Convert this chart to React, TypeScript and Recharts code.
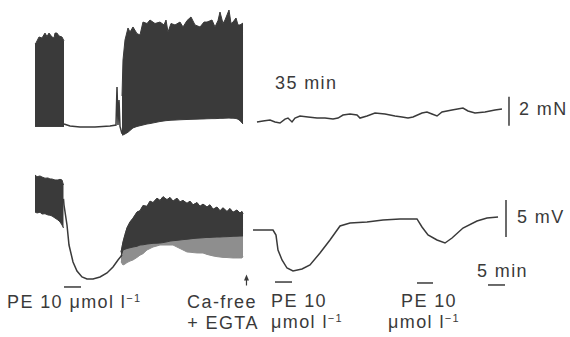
import React from 'react';
import { ComposedChart, Area, Line, XAxis, YAxis, ReferenceLine, ReferenceDot, Customized } from 'recharts';

// page geometry: x = time (min), top trace = force (mN), bottom trace = membrane potential change (mV)
const W = 570;
const H = 337;
const PX_PER_MIN = 3.4;
const X0_PX = 35;
const PX_PER_MN = 14.5;
const F0_PX = 125;
const PX_PER_MV = 7.4;
const V0_PX = 230;

const X_DOMAIN = [-X0_PX / PX_PER_MIN, (W - X0_PX) / PX_PER_MIN];
const F_DOMAIN = [(F0_PX - H) / PX_PER_MN, F0_PX / PX_PER_MN];
const V_DOMAIN = [(V0_PX - H) / PX_PER_MV, V0_PX / PX_PER_MV];

const INK = '#3a3a3a';
const LIGHT = '#8e8e8e';
const FONT = '"Liberation Sans", Arial, sans-serif';

// force, first burst of spikes: [min, low envelope, high envelope]
const forceBurst1: [number, number, number][] = [
  [0, -0.1, 5.59], [0.29, -0.1, 5.66], [1.18, -0.1, 6.07], [2.06, -0.1, 6.0], [2.94, -0.1, 6.34],
  [3.53, -0.1, 6.1], [4.12, -0.1, 6.34], [5.0, -0.1, 6.07], [5.59, -0.1, 6.0], [5.88, -0.1, 6.34],
  [6.47, -0.1, 6.34], [7.06, -0.1, 6.14], [7.94, -0.1, 6.07], [8.24, -0.1, 5.93], [8.53, -0.1, 5.8],
];

// force, quiet period during PE with two isolated spikes
const forceQuiet: [number, number][] = [
  [8.53, 0.07], [10.29, -0.07], [13.24, -0.14], [17.65, -0.14], [22.06, -0.07], [23.82, 0],
  [24.12, 2.62], [24.41, 0], [24.71, 1.72], [25.0, -0.1], [25.59, -0.6],
];

// force, second burst
const forceBurst2: [number, number, number][] = [
  [25.59, -0.69, 2.0], [25.88, -0.69, 4.48], [26.47, -0.62, 5.86], [27.35, -0.5, 6.69], [27.94, -0.38, 6.41],
  [28.82, -0.2, 6.76], [30.0, -0.1, 6.3], [30.88, -0.05, 6.21], [31.76, 0, 7.1], [32.94, 0.07, 7.0],
  [33.82, 0.1, 7.24], [35.29, 0.17, 7.0], [36.76, 0.24, 7.1], [37.94, 0.28, 6.9], [38.53, 0.3, 7.24],
  [39.12, 0.31, 6.41], [40.0, 0.33, 7.0], [41.18, 0.34, 6.9], [42.65, 0.36, 7.1], [43.53, 0.37, 6.76],
  [44.71, 0.38, 7.2], [45.88, 0.39, 7.45], [47.06, 0.4, 6.9], [48.53, 0.41, 6.76], [49.71, 0.42, 7.1],
  [50.59, 0.43, 7.1], [52.06, 0.44, 7.24], [52.94, 0.44, 6.76], [53.82, 0.45, 7.2], [54.41, 0.46, 7.79],
  [55.29, 0.46, 7.0], [55.88, 0.47, 7.24], [57.06, 0.48, 7.93], [57.65, 0.47, 7.0], [58.24, 0.47, 7.1],
  [59.12, 0.45, 7.38], [59.71, 0.4, 6.9], [60.29, 0.3, 6.9], [61.18, 0.07, 7.03],
];

// force after 35 min in Ca-free + EGTA
const forceCaFree: [number, number][] = [
  [65.29, 0.21], [67.06, 0.28], [69.12, 0.34], [70.59, 0.21], [72.06, 0.14], [73.53, 0.41], [74.41, 0.48],
  [75.59, 0.21], [76.47, 0.48], [77.94, 0.62], [80.29, 0.55], [82.94, 0.48], [85.29, 0.48], [87.65, 0.41],
  [89.12, 0.48], [90.59, 0.69], [92.65, 0.76], [94.71, 0.69], [95.59, 0.48], [97.65, 0.62], [100.0, 0.83],
  [102.94, 0.76], [105.88, 0.62], [107.94, 0.55], [109.71, 0.48], [111.18, 0.55], [113.82, 0.83],
  [115.29, 0.9], [116.76, 0.76], [118.24, 0.62], [119.71, 0.9], [122.65, 1.03], [125.88, 1.17],
  [127.35, 0.97], [129.41, 0.83], [132.35, 0.9], [135.29, 1.03], [137.35, 1.1],
];

// membrane potential, first burst: [min, low, high]
const vmBurst1: [number, number, number][] = [
  [0, 2.43, 7.43], [0.6, 2.3, 7.2], [1.47, 2.4, 7.3], [2.06, 2.16, 7.16], [2.94, 2.2, 7.0],
  [3.82, 2.03, 7.03], [4.41, 2.0, 6.9], [5.0, 1.89, 6.89], [5.88, 1.62, 6.76], [6.76, 1.35, 6.76],
  [7.35, 1.1, 6.85], [7.94, 0.68, 6.76], [8.38, 0.27, 6.08],
];

// hyperpolarisation during PE
const vmPE: [number, number][] = [
  [8.38, 4.2], [8.53, 3.38], [9.41, 0.68], [10.0, -2.03], [11.18, -4.32], [12.35, -5.54], [13.82, -6.35],
  [15.29, -6.62], [17.06, -6.62], [19.12, -6.35], [21.18, -5.81], [22.94, -5.0], [24.41, -4.05],
  [25.59, -3.38],
];

// membrane potential, second burst: [min, outer low, dense low, high]
const vmBurst2: [number, number, number, number][] = [
  [25.29, -4.3, -3.6, -3.0], [25.88, -4.73, -2.7, -1.62], [26.47, -4.6, -2.6, -0.6], [27.06, -4.4, -2.5, 0.3],
  [27.94, -4.2, -2.4, 1.08], [28.82, -4.05, -2.3, 1.6], [30.0, -3.7, -2.2, 2.43], [30.88, -3.4, -2.03, 2.6],
  [31.76, -3.2, -2.0, 3.3], [32.94, -2.7, -1.9, 3.2], [33.82, -2.5, -1.85, 3.9], [34.71, -2.3, -1.8, 3.7],
  [35.88, -2.15, -1.78, 4.3], [36.76, -2.03, -1.76, 4.0], [37.65, -2.03, -1.7, 4.5], [38.82, -2.03, -1.6, 4.1],
  [39.71, -2.03, -1.5, 4.4], [40.59, -2.03, -1.45, 3.9], [41.76, -2.3, -1.4, 4.3], [42.65, -2.5, -1.35, 3.8],
  [43.53, -2.7, -1.3, 4.0], [44.71, -2.97, -1.25, 3.6], [45.59, -3.0, -1.2, 3.9], [46.47, -3.05, -1.15, 3.4],
  [47.65, -3.1, -1.1, 3.7], [48.53, -3.11, -1.08, 3.2], [49.41, -3.11, -1.05, 3.5], [50.59, -3.3, -1.0, 3.1],
  [51.47, -3.4, -1.0, 3.4], [52.35, -3.5, -0.97, 2.8], [53.53, -3.6, -0.95, 3.1], [54.41, -3.65, -0.95, 2.6],
  [55.29, -3.7, -0.92, 3.0], [56.47, -3.72, -0.9, 2.5], [57.35, -3.75, -0.88, 2.9], [58.24, -3.78, -0.85, 2.4],
  [59.41, -3.78, -0.83, 2.7], [60.29, -3.78, -0.82, 2.3], [60.88, -3.78, -0.81, 2.5], [61.18, -3.6, -0.8, 2.2],
];

// membrane potential in Ca-free + EGTA, two PE applications
const vmCaFree: [number, number][] = [
  [64.12, 0], [70.0, 0], [70.88, -0.68], [71.47, -2.7], [72.65, -4.05], [74.12, -5.14], [75.88, -5.54],
  [78.53, -5.27], [80.88, -4.73], [83.82, -3.11], [86.76, -1.35], [89.71, 0.54], [92.65, 0.95],
  [97.65, 1.08], [102.35, 1.35], [107.35, 1.49], [112.35, 1.49], [113.82, 0.41], [115.59, -0.68],
  [118.24, -1.35], [120.59, -1.76], [122.65, -1.08], [125.88, 0.27], [130.0, 1.22], [132.94, 1.62],
  [136.18, 1.76],
];

// PE application bars (start, end in min) and the level they sit at (mV axis)
const peBars: [number, number, number][] = [
  [8.53, 13.53, -7.7], [70.59, 75.59, -7.03], [112.35, 117.06, -7.16],
];

const toRange = (rows: [number, number, number][]) => rows.map(([t, lo, hi]) => ({ t, range: [lo, hi] }));
const toLine = (rows: [number, number][]) => rows.map(([t, v]) => ({ t, v }));

const Arrowhead = (p: any) => (
  <path d={`M${p.cx - 2.5},${p.cy + 4} L${p.cx},${p.cy - 2} L${p.cx + 2.5},${p.cy + 4} Z`} fill={INK} />
);

const Labels = () => {
  const s = { fontFamily: FONT, fontSize: 18, fill: INK, letterSpacing: 1.4 } as const;
  const sup = (
    <tspan dy={-6} fontSize={11}>
      −1
    </tspan>
  );
  return (
    <g>
      <text x={275} y={89} {...s}>35 min</text>
      <text x={519} y={115} {...s}>2 mN</text>
      <text x={517} y={223} {...s}>5 mV</text>
      <text x={477} y={277} {...s}>5 min</text>
      <text x={7} y={308} {...s}>PE 10 μmol l{sup}</text>
      <text x={222} y={308} textAnchor="middle" {...s}>Ca-free</text>
      <text x={223} y={329} textAnchor="middle" {...s}>+ EGTA</text>
      <text x={271} y={307} {...s}>PE 10</text>
      <text x={271} y={328} {...s}>μmol l{sup}</text>
      <text x={401} y={307} {...s}>PE 10</text>
      <text x={388} y={328} {...s}>μmol l{sup}</text>
    </g>
  );
};

export default function App() {
  const b2 = vmBurst2.map(([t, outer, dense, hi]) => ({ t, outer: [outer, hi], dense: [dense, hi] }));
  return (
    <div style={{ position: 'absolute', left: 0, top: 0, width: W, height: H, background: '#fff' }}>
      <ComposedChart width={W} height={H} margin={{ top: 0, right: 0, bottom: 0, left: 0 }}>
        <XAxis dataKey="t" type="number" domain={X_DOMAIN} allowDataOverflow hide />
        <YAxis yAxisId="f" type="number" domain={F_DOMAIN} allowDataOverflow hide />
        <YAxis yAxisId="v" type="number" domain={V_DOMAIN} allowDataOverflow hide />

        <Area yAxisId="f" data={toRange(forceBurst1)} dataKey="range" type="linear" stroke={INK} strokeWidth={1}
          fill={INK} fillOpacity={1} dot={false} activeDot={false} isAnimationActive={false} />
        <Line yAxisId="f" data={toLine(forceQuiet)} dataKey="v" type="linear" stroke={INK} strokeWidth={1.5}
          dot={false} activeDot={false} isAnimationActive={false} />
        <Area yAxisId="f" data={toRange(forceBurst2)} dataKey="range" type="linear" stroke={INK} strokeWidth={1}
          fill={INK} fillOpacity={1} dot={false} activeDot={false} isAnimationActive={false} />
        <Line yAxisId="f" data={toLine(forceCaFree)} dataKey="v" type="linear" stroke={INK} strokeWidth={1.5}
          dot={false} activeDot={false} isAnimationActive={false} />

        <Area yAxisId="v" data={toRange(vmBurst1)} dataKey="range" type="linear" stroke={INK} strokeWidth={1}
          fill={INK} fillOpacity={1} dot={false} activeDot={false} isAnimationActive={false} />
        <Line yAxisId="v" data={toLine(vmPE)} dataKey="v" type="linear" stroke={INK} strokeWidth={1.5}
          dot={false} activeDot={false} isAnimationActive={false} />
        <Area yAxisId="v" data={b2} dataKey="outer" type="linear" stroke={LIGHT} strokeWidth={1}
          fill={LIGHT} fillOpacity={1} dot={false} activeDot={false} isAnimationActive={false} />
        <Area yAxisId="v" data={b2} dataKey="dense" type="linear" stroke={INK} strokeWidth={1}
          fill={INK} fillOpacity={1} dot={false} activeDot={false} isAnimationActive={false} />
        <Line yAxisId="v" data={toLine(vmCaFree)} dataKey="v" type="linear" stroke={INK} strokeWidth={1.5}
          dot={false} activeDot={false} isAnimationActive={false} />

        {/* scale bars */}
        <ReferenceLine yAxisId="f" segment={[{ x: 139.41, y: -0.05 }, { x: 139.41, y: 1.95 }]} stroke={INK} strokeWidth={1.5} />
        <ReferenceLine yAxisId="v" segment={[{ x: 138.53, y: -0.95 }, { x: 138.53, y: 4.05 }]} stroke={INK} strokeWidth={1.5} />
        <ReferenceLine yAxisId="v" segment={[{ x: 133.24, y: -7.43 }, { x: 138.24, y: -7.43 }]} stroke={INK} strokeWidth={1.5} />

        {/* PE applications */}
        {peBars.map(([a, b, lvl], i) => (
          <ReferenceLine key={i} yAxisId="v" segment={[{ x: a, y: lvl }, { x: b, y: lvl }]} stroke={INK} strokeWidth={1.5} />
        ))}

        {/* Ca-free + EGTA marker */}
        <ReferenceLine yAxisId="v" segment={[{ x: 62.2, y: -7.5 }, { x: 62.2, y: -6.5 }]} stroke={INK} strokeWidth={1.2} />
        <ReferenceDot yAxisId="v" x={62.2} y={-6.3} r={3} shape={Arrowhead} />

        <Customized component={Labels} />
      </ComposedChart>
    </div>
  );
}
